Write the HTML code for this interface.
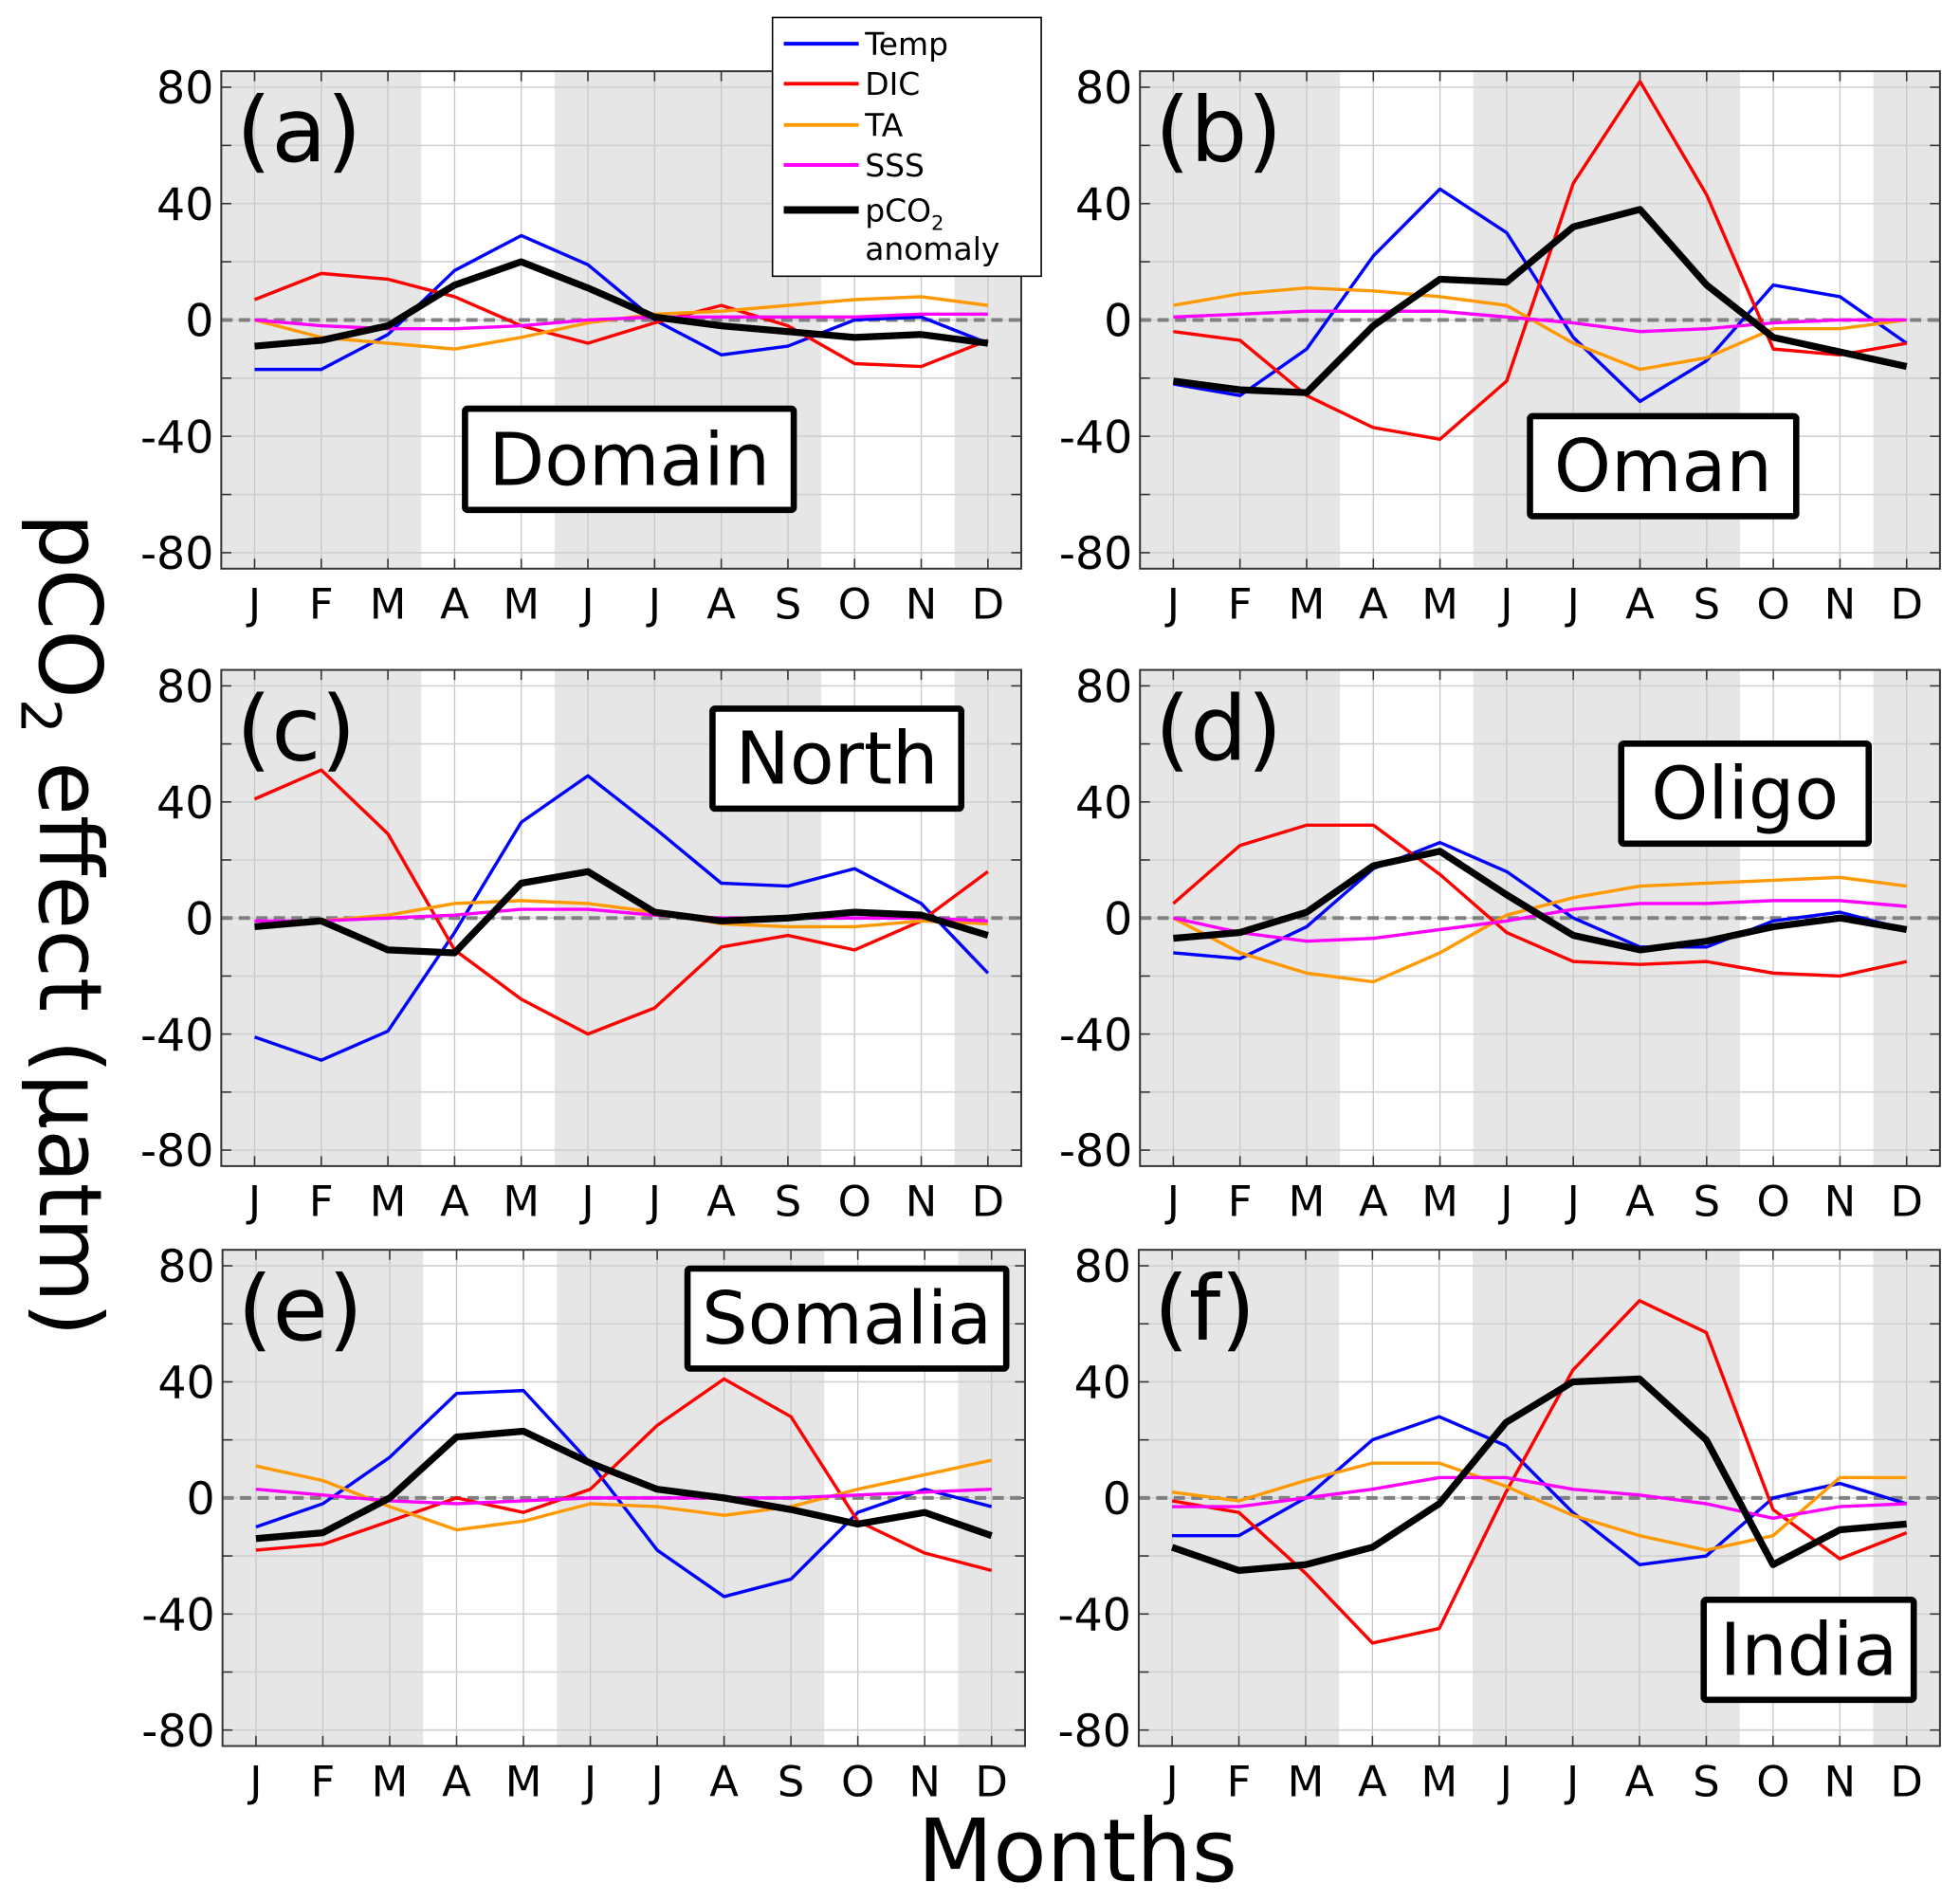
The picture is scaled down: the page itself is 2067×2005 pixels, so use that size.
<!DOCTYPE html>
<html><head><meta charset="utf-8"><style>
html,body{margin:0;padding:0;background:#fff;}
svg{display:block;font-family:"DejaVu Sans","Liberation Sans",sans-serif;}
</style></head><body>
<svg id="fig" width="2067" height="2005" viewBox="0 0 1568 1521" xmlns="http://www.w3.org/2000/svg">
<rect width="1568" height="1521" fill="#fff"/>
<text x="0" y="0" transform="translate(32,740) rotate(90)" font-size="70" text-anchor="middle">pCO<tspan font-size="44" dy="15">2</tspan><tspan dy="-15"> effect (µatm)</tspan></text>
<text x="862" y="1505" font-size="70" text-anchor="middle">Months</text>
</svg>
<script>
const months = ['J','F','M','A','M','J','J','A','S','O','N','D'];
const yTicks = [80,40,0,-40,-80];
const seriesNames = ['Temp','DIC','TA','SSS','pCO2'];
const panelLetters = ['(a)','(b)','(c)','(d)','(e)','(f)'];
const regionNames = ['Domain','Oman','North','Oligo','Somalia','India'];
const tempA=[-17,-17,-5,17,29,19,0,-12,-9,0,1,-8];
const dicA=[7,16,14,8,-2,-8,-1,5,-2,-15,-16,-7];
const taA=[0,-6,-8,-10,-6,-1,2,3,5,7,8,5];
const sssA=[0,-2,-3,-3,-2,0,1,1,1,1,2,2];
const pco2A=[-9,-7,-2,12,20,11,1,-2,-4,-6,-5,-8];
const tempB=[-22,-26,-10,22,45,30,-6,-28,-14,12,8,-8];
const dicB=[-4,-7,-26,-37,-41,-21,47,82,43,-10,-12,-8];
const taB=[5,9,11,10,8,5,-8,-17,-13,-3,-3,0];
const sssB=[1,2,3,3,3,1,-1,-4,-3,-1,0,0];
const pco2B=[-21,-24,-25,-2,14,13,32,38,12,-6,-11,-16];
const tempC=[-41,-49,-39,-5,33,49,31,12,11,17,5,-19];
const dicC=[41,51,29,-11,-28,-40,-31,-10,-6,-11,-1,16];
const taC=[-3,-1,1,5,6,5,2,-2,-3,-3,-1,-2];
const sssC=[-1,-1,0,1,3,3,1,0,0,0,0,-1];
const pco2C=[-3,-1,-11,-12,12,16,2,-1,0,2,1,-6];
const tempD=[-12,-14,-3,17,26,16,0,-10,-10,-1,2,-4];
const dicD=[5,25,32,32,15,-5,-15,-16,-15,-19,-20,-15];
const taD=[0,-12,-19,-22,-12,1,7,11,12,13,14,11];
const sssD=[0,-5,-8,-7,-4,-1,3,5,5,6,6,4];
const pco2D=[-7,-5,2,18,23,8,-6,-11,-8,-3,0,-4];
const tempE=[-10,-2,14,36,37,12,-18,-34,-28,-5,3,-3];
const dicE=[-18,-16,-8,0,-5,3,25,41,28,-8,-19,-25];
const taE=[11,6,-3,-11,-8,-2,-3,-6,-3,3,8,13];
const sssE=[3,1,-1,-2,-1,0,0,0,0,1,2,3];
const pco2E=[-14,-12,0,21,23,12,3,0,-4,-9,-5,-13];
const tempF=[-13,-13,0,20,28,18,-5,-23,-20,0,5,-2];
const dicF=[-1,-5,-26,-50,-45,2,44,68,57,-4,-21,-12];
const taF=[2,-1,6,12,12,4,-6,-13,-18,-13,7,7];
const sssF=[-3,-3,0,3,7,7,3,1,-2,-7,-3,-2];
const pco2F=[-17,-25,-23,-17,-2,26,40,41,20,-23,-11,-9];

const panelData=[[tempA,dicA,taA,sssA,pco2A],[tempB,dicB,taB,sssB,pco2B],[tempC,dicC,taC,sssC,pco2C],[tempD,dicD,taD,sssD,pco2D],[tempE,dicE,taE,sssE,pco2E],[tempF,dicF,taF,sssF,pco2F]];
const colors=['#0000ff','#ff0000','#ff9900','#ff00ff','#000000'];
const widths=[2.6,2.6,2.6,2.6,5.5];
const boxes=[[177,57,817,455],[912,57,1552,455],[177,536,817,933],[912,536,1552,933],[178,1000,820,1397],[911,1000,1552,1397]];
const labelBoxes=[[372,327,635,408],[1224,333,1437,413],[570,567,769,647],[1297,595,1495,675],[550,1015,805,1095],[1363,1280,1531,1360]];
const NS='http://www.w3.org/2000/svg';
const svg=document.getElementById('fig');
function mk(tag,attrs,parent){const e=document.createElementNS(NS,tag);for(const k in attrs)e.setAttribute(k,attrs[k]);(parent||svg).appendChild(e);return e;}
const YMAX=85.5,YMIN=-85.5;
boxes.forEach((b,p)=>{
  const [x0,y0,x1,y1]=b;
  const g=mk('g',{});
  
  
  const xs=m=>x0+(m+0.5)*(x1-x0)/12;
  const ys=v=>y0+(YMAX-v)*(y1-y0)/(YMAX-YMIN);
  const w=(x1-x0)/12;
  [[0,3],[5,9],[11,12]].forEach(s=>{
    const r=mk('rect',{x:x0+s[0]*w,y:y0,width:(s[1]-s[0])*w,height:y1-y0,fill:'#e6e6e6'},g);
    
    
  });
  months.forEach((m,i)=>{mk('line',{x1:xs(i),x2:xs(i),y1:y0,y2:y1,stroke:'#c8c8c8','stroke-width':1},g);});
  for(let v=-80;v<=80;v+=20){mk('line',{x1:x0,x2:x1,y1:ys(v),y2:ys(v),stroke:'#d0d0d0','stroke-width':1.2},g);}
  months.forEach((m,i)=>{mk('line',{x1:xs(i),x2:xs(i),y1:y0,y2:y0+8,stroke:'#333','stroke-width':1.2},g);mk('line',{x1:xs(i),x2:xs(i),y1:y1,y2:y1-8,stroke:'#333','stroke-width':1.2},g);
    const t=mk('text',{x:xs(i),y:y1+40,'font-size':34,'text-anchor':'middle'},g);t.textContent=m;
    
    
  });
  for(let v=-80;v<=80;v+=20){mk('line',{x1:x0,x2:x0+8,y1:ys(v),y2:ys(v),stroke:'#333','stroke-width':1.2},g);mk('line',{x1:x1,x2:x1-8,y1:ys(v),y2:ys(v),stroke:'#333','stroke-width':1.2},g);}
  yTicks.forEach(v=>{const t=mk('text',{x:x0-6,y:ys(v)+13,'font-size':36,'text-anchor':'end'},g);t.textContent=v;
    
    
  });
  mk('line',{x1:x0,x2:x1,y1:ys(0),y2:ys(0),stroke:'#808080','stroke-width':3,'stroke-dasharray':'9,5'},g);
  panelData[p].forEach((arr,s)=>{
    const pl=mk('polyline',{points:arr.map((v,i)=>xs(i)+','+ys(v)).join(' '),fill:'none',stroke:colors[s],'stroke-width':widths[s],'stroke-linejoin':'round'},g);
    
    
  });
  mk('rect',{x:x0,y:y0,width:x1-x0,height:y1-y0,fill:'none',stroke:'#333','stroke-width':1.5},g);
  const lt=mk('text',{x:x0+12,y:y0+72,'font-size':72},g);lt.textContent=panelLetters[p];
  
  
  const lb=labelBoxes[p];
  const rb=mk('rect',{x:lb[0],y:lb[1],width:lb[2]-lb[0],height:lb[3]-lb[1],fill:'#fff',stroke:'#000','stroke-width':5,rx:2},g);
  
  
  const rt=mk('text',{x:(lb[0]+lb[2])/2,y:lb[3]-20,'font-size':58,'text-anchor':'middle'},g);rt.textContent=regionNames[p];
  
  
});
const lg=mk('g',{});


mk('rect',{x:618,y:14,width:215,height:207,fill:'#fff',stroke:'#000','stroke-width':1.2},lg);
const ly=[35,67,100,132,168];
seriesNames.forEach((n,s)=>{
  const e=mk('g',{},lg);
  
  
  mk('line',{x1:627,x2:687,y1:ly[s],y2:ly[s],stroke:colors[s],'stroke-width':s==4?6:3},e);
  const t=mk('text',{x:692,y:ly[s]+9,'font-size':25},e);
  if(s==4){t.innerHTML='pCO<tspan font-size="16" dy="7">2</tspan>';const t2=mk('text',{x:692,y:208,'font-size':25},e);t2.textContent='anomaly';}
  else t.textContent=n;
});
</script>
</body></html>
